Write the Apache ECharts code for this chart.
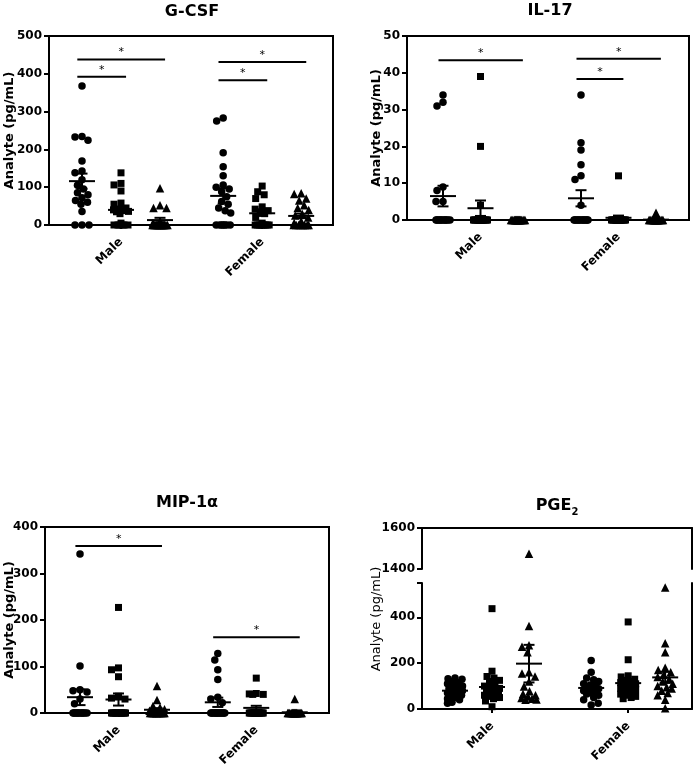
<!DOCTYPE html>
<html>
<head>
<meta charset="utf-8">
<script src="https://cdn.jsdelivr.net/npm/echarts@6/dist/echarts.min.js"></script>
<style>
html,body{margin:0;padding:0;background:#fff;}
#c{width:697px;height:764px;}
</style>
</head>
<body>
<div id="c"></div>
<script>
// ================= DATA =================
const categories = ['Male', 'Female'];
const yAxisTitle = 'Analyte (pg/mL)';

// G-CSF
const gcsfMaleCircle     = [368, 234, 233, 224, 169, 143, 138, 120, 105, 95, 85, 80, 72, 65, 60, 55, 36, 0, 0, 0];
const gcsfMaleSquare     = [138, 110, 106, 90, 58, 55, 45, 42, 40, 38, 36, 35, 30, 5, 0, 0, 0, 0, 0, 0];
const gcsfMaleTriangle   = [97, 52, 45, 45, 10, 5, 0, 0, 0, 0, 0, 0, 0, 0, 0, 0, 0, 0, 0, 0];
const gcsfFemaleCircle   = [283, 275, 191, 154, 130, 106, 100, 95, 88, 75, 62, 55, 45, 38, 32, 0, 0, 0, 0, 0, 0, 0];
const gcsfFemaleSquare   = [103, 88, 80, 70, 48, 42, 38, 35, 30, 20, 5, 0, 0, 0, 0, 0, 0, 0, 0, 0];
const gcsfFemaleTriangle = [84, 82, 70, 65, 52, 45, 40, 30, 25, 20, 10, 5, 0, 0, 0, 0, 0, 0, 0, 0];
const gcsfMean = [116, 40, 13, 77, 31, 24];
const gcsfSem  = [20, 8, 6, 20, 7, 6];
const gcsfSig  = [[0, 2, 438], [0, 1, 392], [3, 5, 431], [3, 4, 383]];
const gcsfTicks = [0, 100, 200, 300, 400, 500];

// IL-17
const il17MaleCircle     = [34, 32, 31, 9, 8, 5, 5, 0, 0, 0, 0, 0, 0, 0, 0, 0, 0, 0, 0];
const il17MaleSquare     = [39, 20, 4, 0, 0, 0, 0, 0, 0, 0, 0, 0, 0, 0, 0, 0, 0, 0, 0, 0];
const il17MaleTriangle   = [0, 0, 0, 0, 0, 0, 0, 0, 0, 0, 0, 0, 0, 0, 0, 0, 0, 0, 0, 0];
const il17FemaleCircle   = [34, 21, 19, 15, 12, 11, 4, 0, 0, 0, 0, 0, 0, 0, 0, 0, 0, 0, 0, 0];
const il17FemaleSquare   = [12, 0, 0, 0, 0, 0, 0, 0, 0, 0, 0, 0, 0, 0, 0, 0, 0, 0, 0, 0];
const il17FemaleTriangle = [2, 0, 0, 0, 0, 0, 0, 0, 0, 0, 0, 0, 0, 0, 0, 0, 0, 0, 0, 0];
const il17Mean = [6.5, 3.2, 0, 5.9, 0.6, 0.1];
const il17Sem  = [2.8, 2.1, 0, 2.2, 0.6, 0.1];
const il17Sig  = [[0, 2, 43.4], [3, 5, 43.8], [3, 4, 38.3]];
const il17Ticks = [0, 10, 20, 30, 40, 50];

// MIP-1α
const mipMaleCircle     = [342, 101, 50, 48, 45, 30, 20, 0, 0, 0, 0, 0, 0, 0, 0, 0, 0, 0, 0];
const mipMaleSquare     = [227, 97, 93, 78, 36, 32, 30, 0, 0, 0, 0, 0, 0, 0, 0, 0, 0, 0, 0, 0];
const mipMaleTriangle   = [58, 28, 15, 12, 8, 5, 0, 0, 0, 0, 0, 0, 0, 0, 0, 0, 0, 0, 0, 0];
const mipFemaleCircle   = [128, 114, 93, 72, 34, 30, 22, 0, 0, 0, 0, 0, 0, 0, 0, 0, 0, 0, 0, 0, 0];
const mipFemaleSquare   = [75, 42, 41, 40, 40, 0, 0, 0, 0, 0, 0, 0, 0, 0, 0, 0, 0, 0, 0, 0, 0];
const mipFemaleTriangle = [30, 0, 0, 0, 0, 0, 0, 0, 0, 0, 0, 0, 0, 0, 0, 0, 0, 0, 0, 0];
const mipMean = [34, 29, 7, 23, 11, 1.5];
const mipSem  = [17, 13, 3.5, 10, 4.5, 1.5];
const mipSig  = [[0, 2, 359], [3, 5, 163]];
const mipTicks = [0, 100, 200, 300, 400];

// PGE2
const pgeMaleCircle     = [135, 132, 130, 120, 115, 110, 100, 95, 90, 85, 80, 75, 70, 65, 60, 55, 50, 45, 40, 30, 25];
const pgeMaleSquare     = [438, 165, 142, 135, 125, 120, 110, 100, 95, 90, 85, 80, 75, 70, 65, 60, 55, 50, 45, 35, 10];
const pgeMaleTriangle   = [1475, 362, 278, 272, 248, 160, 155, 142, 120, 98, 78, 66, 60, 55, 48, 45, 42, 40];
const pgeFemaleCircle   = [212, 160, 135, 128, 120, 110, 105, 100, 95, 90, 88, 85, 80, 75, 70, 65, 60, 50, 40, 25, 18];
const pgeFemaleSquare   = [380, 215, 145, 140, 130, 125, 120, 115, 110, 100, 95, 90, 85, 80, 75, 70, 65, 60, 55, 50, 45];
const pgeFemaleTriangle = [530, 287, 248, 180, 170, 160, 150, 140, 130, 120, 110, 100, 95, 90, 80, 70, 60, 40, 3];
const pgeMean = [80, 96, 198, 92, 113, 138];
const pgeSem  = [8, 17, 82, 10, 16, 24];
const pgeLowerTicks = [0, 200, 400];
const pgeUpperTicks = [1400, 1600];

// ================= LAYOUT / STYLE =================
const FONT = "'DejaVu Sans', 'Liberation Sans', sans-serif";
const SYMBOLS = ['circle', 'rect', 'triangle', 'circle', 'rect', 'triangle'];
const SIZES = [7.5, 7, 8.5, 7.5, 7, 8.5];
const LW = 2;
const TITLE_SIZE = 16;

const panels = [
  { title: 'G-CSF', tx: 192, ty: 4, grid: { left: 49, top: 36, width: 284, height: 189 },
    yMin: 0, yMax: 500, ticks: gcsfTicks, xMin: 0.154, xMax: 7.436, gap: 0.62, nameGap: 33,
    groups: [gcsfMaleCircle, gcsfMaleSquare, gcsfMaleTriangle, gcsfFemaleCircle, gcsfFemaleSquare, gcsfFemaleTriangle],
    mean: gcsfMean, sem: gcsfSem, sig: gcsfSig },
  { title: 'IL-17', tx: 550, ty: 3, grid: { left: 407, top: 36, width: 282, height: 184 },
    yMin: 0, yMax: 50, ticks: il17Ticks, xMin: 0.04, xMax: 7.56, gap: 0.68, nameGap: 24,
    groups: [il17MaleCircle, il17MaleSquare, il17MaleTriangle, il17FemaleCircle, il17FemaleSquare, il17FemaleTriangle],
    mean: il17Mean, sem: il17Sem, sig: il17Sig },
  { title: 'MIP-1α', tx: 187, ty: 495, grid: { left: 45, top: 527, width: 284, height: 186 },
    yMin: 0, yMax: 400, ticks: mipTicks, xMin: 0.09, xMax: 7.47, gap: 0.58, nameGap: 29,
    groups: [mipMaleCircle, mipMaleSquare, mipMaleTriangle, mipFemaleCircle, mipFemaleSquare, mipFemaleTriangle],
    mean: mipMean, sem: mipSem, sig: mipSig }
];

const pge = { title: '{a|PGE}{b|2}', tx: 557, ty: 494,
  upper: { left: 422, top: 528, width: 270, height: 41 },
  lower: { left: 422, top: 583, width: 270, height: 126 },
  upMin: 1400, upMax: 1600, lowMin: 0, lowMax: 550,
  xMin: 0.108, xMax: 7.405, gap: 0.68,
  groups: [pgeMaleCircle, pgeMaleSquare, pgeMaleTriangle, pgeFemaleCircle, pgeFemaleSquare, pgeFemaleTriangle],
  mean: pgeMean, sem: pgeSem };

// beeswarm: horizontal offsets (px) so that markers do not overlap, limited width
function swarm(values, pxPerY, diam, maxHW) {
  const order = values.map((v, i) => i).sort((a, b) => values[b] - values[a]);
  const placed = [];
  const out = new Array(values.length);
  const cands = [0];
  for (let d = 0.5; d <= maxHW + 1e-9; d += 0.5) cands.push(-d, d);
  for (const i of order) {
    const y = values[i] * pxPerY;
    let best = 0, bestScore = -1;
    for (const c of cands) {
      let minD = Infinity;
      for (const p of placed) {
        const dd = Math.hypot(p.x - c, p.y - y);
        if (dd < minD) minD = dd;
      }
      if (minD >= diam) { best = c; bestScore = Infinity; break; }
      if (minD > bestScore + 1e-9) { bestScore = minD; best = c; }
    }
    placed.push({ x: best, y: y });
    out[i] = best;
  }
  return out;
}

function positions(gap) { return [1, 2, 3, 4 + gap, 5 + gap, 6 + gap]; }

function meanRenderer(axisMin) {
  return function (params, api) {
    const x = api.value(0), m = api.value(1), s = api.value(2);
    const pm = api.coord([x, m]);
    const pt = api.coord([x, m + s]);
    const pb = api.coord([x, Math.max(axisMin, m - s)]);
    const st = { stroke: '#000', lineWidth: LW };
    return { type: 'group', children: [
      { type: 'line', shape: { x1: pm[0] - 13, y1: pm[1], x2: pm[0] + 13, y2: pm[1] }, style: st },
      { type: 'line', shape: { x1: pt[0], y1: pt[1], x2: pb[0], y2: pb[1] }, style: st },
      { type: 'line', shape: { x1: pt[0] - 5.5, y1: pt[1], x2: pt[0] + 5.5, y2: pt[1] }, style: st },
      { type: 'line', shape: { x1: pb[0] - 5.5, y1: pb[1], x2: pb[0] + 5.5, y2: pb[1] }, style: st }
    ]};
  };
}

function sigRender(params, api) {
  const a = api.coord([api.value(0), api.value(2)]);
  const b = api.coord([api.value(1), api.value(2)]);
  return { type: 'group', children: [
    { type: 'line', shape: { x1: a[0], y1: a[1], x2: b[0], y2: b[1] }, style: { stroke: '#000', lineWidth: LW } },
    { type: 'text', x: (a[0] + b[0]) / 2, y: a[1] - 7,
      style: { text: '*', fontSize: 11, fontFamily: FONT, fill: '#000',
               align: 'center', verticalAlign: 'middle', textAlign: 'center', textVerticalAlign: 'middle' } }
  ]};
}

const option = { animation: false, backgroundColor: '#fff',
  title: [], grid: [], xAxis: [], yAxis: [], series: [], graphic: [] };

const labelStyle = { color: '#000', fontFamily: FONT, fontWeight: 'bold', fontSize: 12 };
const axisLineStyle = { show: true, lineStyle: { color: '#000', width: LW } };
const plainNum = function (v) { return String(v); };
const dotStyle = { color: '#000', opacity: 1 };

function xLabelAxis(gridIndex, xMin, xMax, gap) {
  const p = positions(gap);
  const labelPos = [p[1], p[4]];
  return { gridIndex: gridIndex, type: 'value', min: xMin, max: xMax, position: 'bottom',
    axisLine: axisLineStyle,
    axisTick: { show: true, customValues: labelPos, length: 4, inside: false, lineStyle: { color: '#000', width: LW } },
    axisLabel: Object.assign({ customValues: labelPos, rotate: 45, margin: 15,
      formatter: function (v) { return v < (labelPos[0] + labelPos[1]) / 2 ? categories[0] : categories[1]; } }, labelStyle),
    splitLine: { show: false } };
}

panels.forEach(function (pn) {
  const gi = option.grid.length;
  option.grid.push(Object.assign({ show: true, borderColor: '#000', borderWidth: LW, containLabel: false, outerBoundsMode: 'none' }, pn.grid));
  option.title.push({ text: pn.title, left: pn.tx, top: pn.ty, textAlign: 'center', padding: 0,
    textStyle: { fontFamily: FONT, fontWeight: 'bold', fontSize: TITLE_SIZE, color: '#000' } });
  const xi = option.xAxis.length;
  option.xAxis.push(xLabelAxis(gi, pn.xMin, pn.xMax, pn.gap));
  const yi = option.yAxis.length;
  option.yAxis.push({ gridIndex: gi, type: 'value', min: pn.yMin, max: pn.yMax, interval: pn.ticks[1] - pn.ticks[0],
    axisLine: axisLineStyle,
    axisTick: { show: true, length: 5, lineStyle: { color: '#000', width: LW } },
    axisLabel: Object.assign({ margin: 7, customValues: pn.ticks, formatter: plainNum }, labelStyle),
    splitLine: { show: false },
    name: yAxisTitle, nameLocation: 'middle', nameGap: pn.nameGap, nameMoveOverlap: false,
    nameTextStyle: { fontFamily: FONT, fontWeight: 'bold', fontSize: 13, color: '#000' } });
  const pos = positions(pn.gap);
  const pxPerX = pn.grid.width / (pn.xMax - pn.xMin);
  const pxPerY = pn.grid.height / (pn.yMax - pn.yMin);
  pn.groups.forEach(function (vals, g) {
    const off = swarm(vals, pxPerY, 7, 7.5);
    option.series.push({ type: 'scatter', xAxisIndex: xi, yAxisIndex: yi, clip: false, silent: true, z: 2,
      symbol: SYMBOLS[g], symbolSize: SIZES[g], itemStyle: dotStyle,
      data: vals.map(function (v, i) { return [pos[g] + off[i] / pxPerX, v]; }) });
  });
  option.series.push({ type: 'custom', xAxisIndex: xi, yAxisIndex: yi, clip: false, silent: true, z: 3,
    renderItem: meanRenderer(pn.yMin), encode: { x: 0, y: 1 },
    data: pn.mean.map(function (m, g) { return [pos[g], m, pn.sem[g]]; }) });
  if (pn.sig.length) {
    option.series.push({ type: 'custom', xAxisIndex: xi, yAxisIndex: yi, clip: false, silent: true, z: 3,
      renderItem: sigRender, encode: { x: [0, 1], y: 2 },
      data: pn.sig.map(function (s) { return [pos[s[0]] - 0.12, pos[s[1]] + 0.13, s[2]]; }) });
  }
});

// ---- PGE2 with broken y axis (two stacked grids) ----
(function () {
  const giU = option.grid.length;
  option.grid.push(Object.assign({ containLabel: false, outerBoundsMode: 'none' }, pge.upper));
  const giL = option.grid.length;
  option.grid.push(Object.assign({ containLabel: false, outerBoundsMode: 'none' }, pge.lower));
  option.title.push({ text: pge.title, left: pge.tx, top: pge.ty, textAlign: 'center', padding: 0,
    textStyle: { fontFamily: FONT, fontWeight: 'bold', fontSize: TITLE_SIZE, color: '#000',
      rich: { a: { fontFamily: FONT, fontWeight: 'bold', fontSize: TITLE_SIZE, color: '#000', lineHeight: 20, verticalAlign: 'bottom' },
              b: { fontFamily: FONT, fontWeight: 'bold', fontSize: 10, color: '#000', lineHeight: 12, verticalAlign: 'bottom', padding: [0, 0, -3, 0] } } } });
  const xiU = option.xAxis.length;
  option.xAxis.push({ gridIndex: giU, type: 'value', min: pge.xMin, max: pge.xMax, position: 'top',
    axisLine: axisLineStyle, axisTick: { show: false }, axisLabel: { show: false }, splitLine: { show: false } });
  const xiL = option.xAxis.length;
  option.xAxis.push(xLabelAxis(giL, pge.xMin, pge.xMax, pge.gap));
  const yiU = option.yAxis.length;
  option.yAxis.push({ gridIndex: giU, type: 'value', min: pge.upMin, max: pge.upMax, interval: 200,
    axisLine: axisLineStyle, axisTick: { show: true, length: 5, lineStyle: { color: '#000', width: LW } },
    axisLabel: Object.assign({ margin: 7, customValues: pgeUpperTicks, formatter: plainNum }, labelStyle), splitLine: { show: false } });
  option.yAxis.push({ gridIndex: giU, type: 'value', min: pge.upMin, max: pge.upMax, position: 'right',
    axisLine: axisLineStyle, axisTick: { show: false }, axisLabel: { show: false }, splitLine: { show: false } });
  const yiL = option.yAxis.length;
  option.yAxis.push({ gridIndex: giL, type: 'value', min: pge.lowMin, max: pge.lowMax, interval: 200,
    axisLine: axisLineStyle,
    axisTick: { show: true, length: 5, customValues: pgeLowerTicks.concat([pge.lowMax]), lineStyle: { color: '#000', width: LW } },
    axisLabel: Object.assign({ margin: 7, customValues: pgeLowerTicks, formatter: plainNum }, labelStyle), splitLine: { show: false } });
  option.yAxis.push({ gridIndex: giL, type: 'value', min: pge.lowMin, max: pge.lowMax, position: 'right',
    axisLine: axisLineStyle, axisTick: { show: false }, axisLabel: { show: false }, splitLine: { show: false } });

  const pos = positions(pge.gap);
  const pxPerX = pge.lower.width / (pge.xMax - pge.xMin);
  const pxPerY = pge.lower.height / (pge.lowMax - pge.lowMin);
  pge.groups.forEach(function (vals, g) {
    const off = swarm(vals, pxPerY, 7, 7.5);
    const lowData = [], upData = [];
    vals.forEach(function (v, i) {
      const pt = [pos[g] + off[i] / pxPerX, v];
      if (v >= pge.upMin) upData.push(pt); else lowData.push(pt);
    });
    option.series.push({ type: 'scatter', xAxisIndex: xiL, yAxisIndex: yiL, clip: false, silent: true, z: 2,
      symbol: SYMBOLS[g], symbolSize: SIZES[g], itemStyle: dotStyle, data: lowData });
    if (upData.length) {
      option.series.push({ type: 'scatter', xAxisIndex: xiU, yAxisIndex: yiU, clip: false, silent: true, z: 2,
        symbol: SYMBOLS[g], symbolSize: SIZES[g], itemStyle: dotStyle, data: upData });
    }
  });
  option.series.push({ type: 'custom', xAxisIndex: xiL, yAxisIndex: yiL, clip: false, silent: true, z: 3,
    renderItem: meanRenderer(pge.lowMin), encode: { x: 0, y: 1 },
    data: pge.mean.map(function (m, g) { return [pos[g], m, pge.sem[g]]; }) });

  option.graphic.push({ type: 'text', x: 377, y: 619, rotation: Math.PI / 2, silent: true,
    style: { text: yAxisTitle, fontSize: 13, fontFamily: FONT, fontWeight: 'normal', fill: '#000',
             align: 'center', verticalAlign: 'middle', textAlign: 'center', textVerticalAlign: 'middle' } });
})();

const chart = echarts.init(document.getElementById('c'), null, { renderer: 'canvas' });
chart.setOption(option);
</script>
</body>
</html>
